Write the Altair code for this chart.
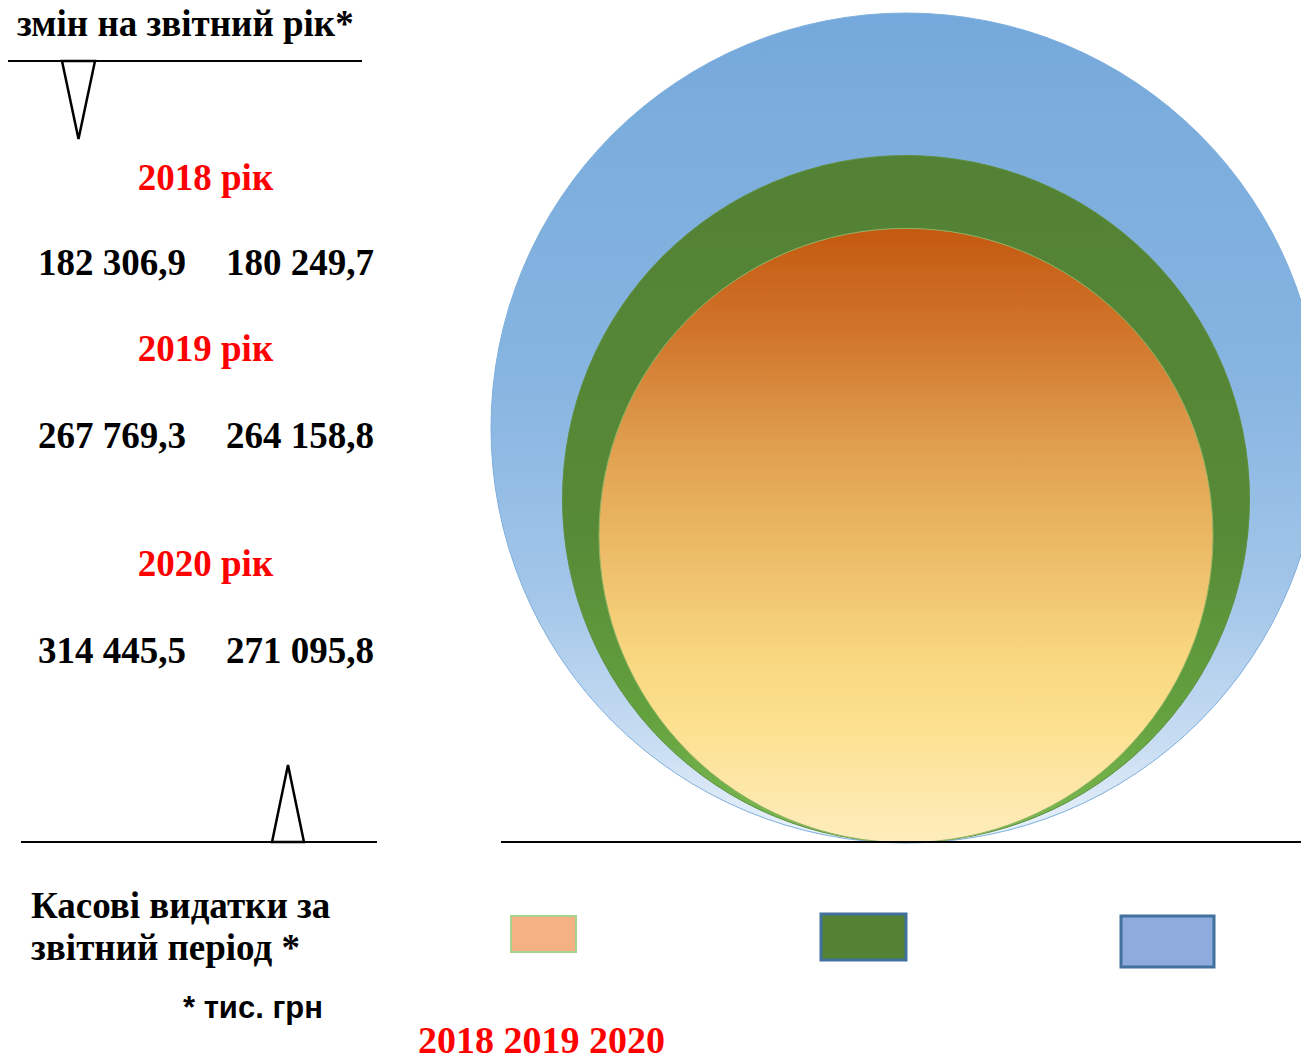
import altair as alt
import pandas as pd

# ---- data ----
years = ["2018", "2019", "2020"]
plan_values = [182306.9, 267769.3, 314445.5]   # план з урахуванням змін на звітний рік
cash_values = [180249.7, 264158.8, 271095.8]   # касові видатки за звітний період
year_word = "рік"
top_caption = "змін на звітний рік*"
bottom_caption = ["Касові видатки за", "звітний період *"]
unit_note = "* тис. грн"


def fmt(v):
    s = f"{v:,.1f}"
    return s.replace(",", " ").replace(".", ",")


df = pd.DataFrame({"year": years, "plan": plan_values, "cash": cash_values})
df["year_label"] = df["year"] + " " + year_word
df["plan_text"] = [fmt(v) for v in plan_values]
df["cash_text"] = [fmt(v) for v in cash_values]

base = alt.Chart(df)

SERIF = "Liberation Serif"
SANS = "Liberation Sans"
FS = 37


def lin(stops):
    return {
        "gradient": "linear",
        "x1": 0, "y1": 0, "x2": 0, "y2": 1,
        "stops": [{"offset": o, "color": c} for o, c in stops],
    }


# gradients per year (styling)
fills = {
    "2018": lin([(0, "#C45911"), (0.165, "#D0742A"), (0.36, "#E0A050"), (0.54, "#EDBE69"),
                 (0.69, "#F8D67F"), (0.8, "#FCE08D"), (1, "#FEEDBD")]),
    "2019": lin([(0, "#538135"), (0.55, "#578A37"), (0.8, "#62A03E"), (1, "#7DBB52")]),
    "2020": lin([(0, "#75A9DB"), (0.45, "#88B5E1"), (0.7, "#A3C6E9"), (0.88, "#C8DDF2"), (1, "#EBF3FB")]),
}
strokes = {"2018": "#93B463", "2019": "#5E8F3E", "2020": "#7EAFDD"}
center_y = {"2018": 527.5, "2019": 491, "2020": 420}
size_scale = alt.Scale(type="ordinal", domain=years, range=[614 ** 2, 687 ** 2, 830 ** 2])

layers = []
for yr in ["2020", "2019", "2018"]:
    layers.append(
        base.transform_filter(alt.datum.year == yr)
        .mark_circle(fill=fills[yr], opacity=1, stroke=strokes[yr], strokeWidth=1)
        .encode(
            x=alt.value(898),
            y=alt.value(center_y[yr]),
            size=alt.Size("year:O", scale=size_scale, legend=None),
        )
    )

# baseline / separator rules
for x1, x2, yv, w in [(0, 354, 53, 1.3), (13, 369, 834, 1.3), (493, 1310, 834, 1.6)]:
    layers.append(
        alt.Chart(df).mark_rule(color="black", strokeWidth=w).encode(
            x=alt.value(x1), x2=alt.value(x2), y=alt.value(yv)
        )
    )

# arrows (narrow triangles)
layers.append(
    alt.Chart(df).transform_filter(alt.datum.year == years[0])
    .mark_point(shape="M-0.423,-1L0.423,-1L0,1Z", filled=True, fill="white", stroke="black",
                strokeWidth=2.5, opacity=1)
    .encode(x=alt.value(70.5), y=alt.value(92), size=alt.value(78 ** 2))
)
layers.append(
    alt.Chart(df).transform_filter(alt.datum.year == years[0])
    .mark_point(shape="M-0.415,1L0.415,1L0,-1Z", filled=True, fill="white", stroke="black",
                strokeWidth=2.5, opacity=1)
    .encode(x=alt.value(280), y=alt.value(795.5), size=alt.value(77 ** 2))
)

# left-hand text block
label_y = [182, 353, 568]
value_y = [267, 440, 655]
for i, yr in enumerate(years):
    sub = base.transform_filter(alt.datum.year == yr)
    layers.append(
        sub.mark_text(font=SERIF, fontWeight="bold", fontSize=FS, color="#FF0000",
                      align="center", baseline="alphabetic")
        .encode(x=alt.value(197.5), y=alt.value(label_y[i]), text="year_label:N")
    )
    layers.append(
        sub.mark_text(font=SERIF, fontWeight="bold", fontSize=FS, color="black",
                      align="left", baseline="alphabetic")
        .encode(x=alt.value(30), y=alt.value(value_y[i]), text="plan_text:N")
    )
    layers.append(
        sub.mark_text(font=SERIF, fontWeight="bold", fontSize=FS, color="black",
                      align="left", baseline="alphabetic")
        .encode(x=alt.value(218), y=alt.value(value_y[i]), text="cash_text:N")
    )

one = alt.Chart(df).transform_filter(alt.datum.year == years[0])
layers.append(
    one.mark_text(text=top_caption, font=SERIF, fontWeight="bold", fontSize=FS, color="black",
                  align="left", baseline="alphabetic")
    .encode(x=alt.value(9), y=alt.value(28))
)
for line, yv in zip(bottom_caption, [910, 952]):
    layers.append(
        one.mark_text(text=line, font=SERIF, fontWeight="bold", fontSize=FS, color="black",
                      align="left", baseline="alphabetic")
        .encode(x=alt.value(23), y=alt.value(yv))
    )
layers.append(
    one.mark_text(text=unit_note, font=SANS, fontWeight="bold", fontSize=31, color="black",
                  align="left", baseline="alphabetic")
    .encode(x=alt.value(175), y=alt.value(1010))
)

# legend swatches
sw_fill = {"2018": "#F4B183", "2019": "#548235", "2020": "#8FAADC"}
sw_stroke = {"2018": "#A9D18E", "2019": "#41719C", "2020": "#41719C"}
sw_sw = {"2018": 2, "2019": 3, "2020": 3}
sw_box = {"2018": (503, 568, 908, 944), "2019": (813, 898, 906, 952), "2020": (1113, 1206, 908, 959)}
for yr in years:
    x1, x2, y1, y2 = sw_box[yr]
    layers.append(
        base.transform_filter(alt.datum.year == yr)
        .mark_rect(fill=sw_fill[yr], stroke=sw_stroke[yr], strokeWidth=sw_sw[yr])
        .encode(x=alt.value(x1), x2=alt.value(x2), y=alt.value(y1), y2=alt.value(y2))
    )

layers.append(
    one.mark_text(text=" ".join(years), font=SERIF, fontWeight="bold", fontSize=38, color="#FF0000",
                  align="left", baseline="alphabetic")
    .encode(x=alt.value(410), y=alt.value(1045))
)

chart = (
    alt.layer(*layers)
    .properties(width=1293, height=1046, autosize="none", padding=0, background="white")
    .configure_view(strokeWidth=0)
)

chart.save("out.html", embed_options={"renderer": "svg", "actions": False})
